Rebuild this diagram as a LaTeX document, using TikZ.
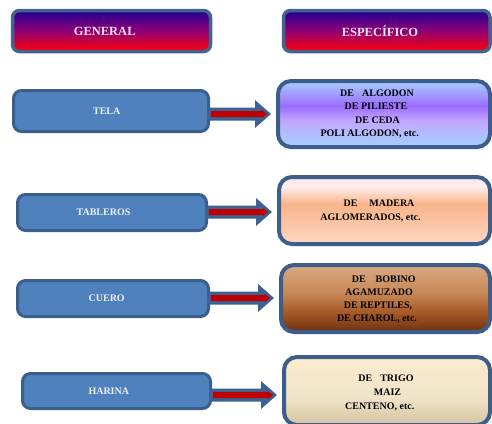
\documentclass[tikz,border=0pt]{standalone}
\usepackage{fontspec}
\setmainfont{Liberation Serif}
\usetikzlibrary{calc}
\definecolor{lblue}{HTML}{4F81BD}
\definecolor{lborder}{HTML}{3A5F8B}
\definecolor{rborder}{HTML}{3D5E8B}
\definecolor{hborder}{HTML}{44648F}
\definecolor{arrblue}{HTML}{3C6192}
\definecolor{arrred}{HTML}{C00000}
\definecolor{htop}{HTML}{1E0090}
\definecolor{hmid}{HTML}{8C0078}
\definecolor{hbot}{HTML}{FF0008}
\definecolor{htxt}{HTML}{F6E8F2}
\definecolor{ltxt}{HTML}{EEF1F7}
\definecolor{ta}{HTML}{A6CFFF}
\definecolor{tb}{HTML}{9B6CFF}
\definecolor{tc}{HTML}{C2A6FF}
\definecolor{td}{HTML}{A2D2FF}
\definecolor{ba}{HTML}{FCE4DC}
\definecolor{bb}{HTML}{FFF0F0}
\definecolor{bc}{HTML}{F9B48A}
\definecolor{bd}{HTML}{FDD6C2}
\definecolor{ca}{HTML}{D9A983}
\definecolor{cb}{HTML}{C88A5A}
\definecolor{cc}{HTML}{A85A28}
\definecolor{cd}{HTML}{6E3010}
\definecolor{ya}{HTML}{FCEBCF}
\definecolor{yb}{HTML}{EFE3C8}
\definecolor{yc}{HTML}{D5C3A0}
\pgfdeclareverticalshading{hdrshade}{100bp}{color(0bp)=(hbot); color(25bp)=(hbot); color(51bp)=(hmid); color(75bp)=(htop); color(100bp)=(htop)}
\pgfdeclareverticalshading{telashade}{100bp}{color(0bp)=(td); color(25bp)=(td); color(45bp)=(tc); color(56bp)=(tb); color(75bp)=(ta); color(100bp)=(ta)}
\pgfdeclareverticalshading{tabshade}{100bp}{color(0bp)=(bd); color(25bp)=(bd); color(55bp)=(bc); color(68bp)=(bb); color(75bp)=(ba); color(100bp)=(ba)}
\pgfdeclareverticalshading{cueroshade}{100bp}{color(0bp)=(cd); color(25bp)=(cd); color(40bp)=(cc); color(55bp)=(cb); color(75bp)=(ca); color(100bp)=(ca)}
\pgfdeclareverticalshading{harshade}{100bp}{color(0bp)=(yc); color(25bp)=(yc); color(45bp)=(yb); color(75bp)=(ya); color(100bp)=(ya)}
\newcommand\blockarrow[3]{%
  \fill[arrblue] let \p1=(#1.east), \p2=(#2.west) in
    (\x1-3pt,-#3pt+6.5pt) -- (\x2-21pt,-#3pt+6.5pt) -- (\x2-21pt,-#3pt+14pt)
      -- (\x2-5pt,-#3pt) -- (\x2-21pt,-#3pt-14pt) -- (\x2-21pt,-#3pt-6.5pt) -- (\x1-3pt,-#3pt-6.5pt) -- cycle;
  \fill[arrred] let \p1=(#1.east), \p2=(#2.west) in
    (\x1+1pt,-#3pt+3pt) -- (\x2-14pt,-#3pt+3pt) -- (\x2-14pt,-#3pt+4pt)
      -- (\x2-9pt,-#3pt) -- (\x2-14pt,-#3pt-4pt) -- (\x2-14pt,-#3pt-3pt) -- (\x1+1pt,-#3pt-3pt) -- cycle;
}
\tikzset{
  hdr/.style={draw=hborder, line width=3.5pt, shading=hdrshade, rounded corners=7pt, inner sep=0pt},
  hdrtxt/.style={text=htxt, font=\bfseries\fontsize{12.5}{15}\selectfont, inner sep=0pt},
  lbox/.style={draw=lborder, line width=3pt, fill=lblue, rounded corners=8pt, inner sep=0pt},
  ltext/.style={text=ltxt, font=\bfseries\fontsize{10}{12}\selectfont, inner sep=0pt},
  rbox/.style={draw=rborder, line width=4pt, rounded corners=13pt, inner sep=0pt},
  rtext/.style={text=black, align=center, inner sep=0pt}
}
\begin{document}
\begin{tikzpicture}[x=1pt,y=-1pt]
\useasboundingbox (0,0) rectangle (492,423);
% headers
\node[hdr, minimum width=198pt, minimum height=41pt,
  label={[hdrtxt,xshift=-6.8pt]center:GENERAL}] (gen) at (111.5,31) {};
\node[hdr, minimum width=206.5pt, minimum height=41pt,
  label={[hdrtxt,xshift=-6.8pt]center:ESPECÍFICO}] (esp) at (386.75,31) {};
% left boxes
\node[lbox, minimum width=195pt, minimum height=41pt,
  label={[ltext,xshift=-4.3pt]center:TELA}] (tela) at (111,111) {};
\node[lbox, minimum width=189pt, minimum height=36pt,
  label={[ltext,xshift=-8.5pt]center:TABLEROS}] (tab) at (112,212.5) {};
\node[lbox, minimum width=191pt, minimum height=36pt,
  label={[ltext,xshift=-6.3pt]center:CUERO}] (cuero) at (113,298.5) {};
\node[lbox, minimum width=188pt, minimum height=35pt,
  label={[ltext,xshift=-7.7pt]center:HARINA}] (harina) at (116.5,391) {};
% right boxes
\node[rbox, shading=telashade, minimum width=212pt, minimum height=66pt,
  label={[rtext,xshift=-8pt,font=\bfseries\fontsize{10}{13.3}\selectfont]center:{\hspace*{2pt}DE\hspace{8pt}ALGODON\\DE PILIESTE\\\hspace*{3pt}DE CEDA\\POLI ALGODON, etc.\hspace*{12.6pt}}}] (telaR) at (384,114) {};
\node[rbox, shading=tabshade, minimum width=211pt, minimum height=67pt,
  label={[rtext,xshift=-9.5pt,font=\bfseries\fontsize{10}{14}\selectfont]center:{\hspace*{8pt}DE\hspace{12pt}MADERA\\AGLOMERADOS, etc.\hspace*{9pt}}}] (tabR) at (384.5,210.5) {};
\node[rbox, shading=cueroshade, minimum width=209pt, minimum height=67pt,
  label={[rtext,xshift=-7.5pt,yshift=-0.8pt,font=\bfseries\fontsize{10}{13.2}\selectfont]center:{\hspace*{11.6pt}DE\hspace{10pt}BOBINO\\\hspace*{2pt}AGAMUZADO\\DE REPTILES,\hspace*{2pt}\\DE CHAROL, etc.\hspace*{2pt}}}] (cueroR) at (385.5,298.5) {};
\node[rbox, shading=harshade, minimum width=206pt, minimum height=68pt,
  label={[rtext,xshift=-4pt,yshift=-1.8pt,font=\bfseries\fontsize{10}{13.8}\selectfont]center:{\hspace*{6pt}DE\hspace{8pt}TRIGO\\\hspace*{9pt}MAIZ\\CENTENO, etc.\hspace*{6.6pt}}}] (harinaR) at (387,391) {};
% arrows
\blockarrow{tela}{telaR}{114}
\blockarrow{tab}{tabR}{212}
\blockarrow{cuero}{cueroR}{298}
\blockarrow{harina}{harinaR}{395}
\end{tikzpicture}
\end{document}
